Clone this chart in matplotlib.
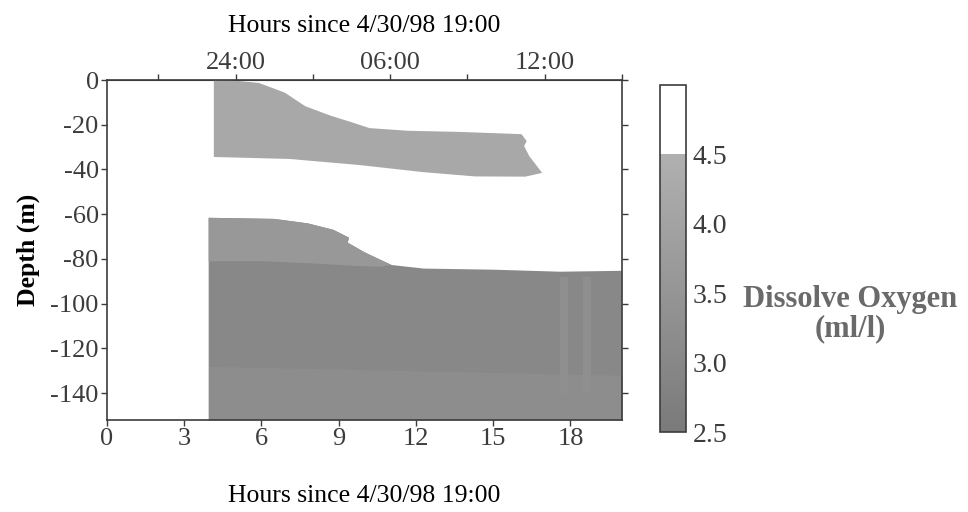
import matplotlib
matplotlib.use('Agg')
import matplotlib.pyplot as plt
import numpy as np
from matplotlib.colors import LinearSegmentedColormap, Normalize
from matplotlib.cm import ScalarMappable

# ---------------- data ----------------
# 4.0-4.5 ml/l band near the surface: outline (hours, depth m)
band_top_t = [4.15, 5.0, 5.9, 6.9, 7.7, 8.7, 9.4, 10.2, 11.7, 13.7, 16.1, 16.3, 16.2, 16.4, 16.9]
band_top_d = [0.0, -0.3, -1.3, -5.6, -11.7, -16.0, -18.5, -21.5, -22.7, -23.2, -24.2, -27.3, -29.5, -34.0, -41.5]
band_bot_t = [16.9, 16.25, 14.3, 12.3, 9.8, 7.1, 4.15]
band_bot_d = [-41.5, -43.2, -43.1, -41.2, -38.0, -35.3, -34.4]
band_do = 4.2

# top of the low-oxygen deep water (hours, depth m)
deep_top_t = [3.95, 5.0, 6.5, 7.8, 8.8, 9.4, 9.35, 10.0, 11.05, 12.3, 15.0, 17.6, 20.0]
deep_top_d = [-61.6, -61.8, -62.1, -64.1, -67.0, -70.5, -72.7, -77.0, -82.7, -84.3, -84.8, -85.7, -85.3]
deep_do = 3.0

# lighter (3.5-4.0) cap of the deep water, lower edge
cap_bot_t = [10.6, 9.5, 8.0, 6.0, 3.95]
cap_bot_d = [-83.5, -83.0, -82.0, -81.0, -81.0]
cap_do = 3.6

# slightly lighter bottom layer
bottom_t = [3.95, 8.0, 12.0, 16.0, 20.0]
bottom_top_d = [-128.0, -129.0, -130.0, -131.0, -132.0]
bottom_do = 3.2

# lighter vertical streaks near 18 h
streak_t0 = [17.6, 18.5]
streak_t1 = [17.9, 18.8]
streak_top = -88.0
streak_bot = -140.0
streak_do = 3.3

data_floor = -152.0
x_ticks = [0, 3, 6, 9, 12, 15, 18]
y_ticks = [0, -20, -40, -60, -80, -100, -120, -140]
top_ticks = [2, 5, 8, 11, 14, 17, 20]
top_labels = ['', '24:00', '', '06:00', '', '12:00', '']
cb_ticks = [2.5, 3.0, 3.5, 4.0, 4.5]

# ---------------- styling ----------------
plt.rcParams['font.family'] = ['Liberation Serif', 'DejaVu Serif']
plt.rcParams['axes.unicode_minus'] = False
ink = '#3c3c3c'
plt.rcParams['text.color'] = ink
plt.rcParams['axes.edgecolor'] = ink
plt.rcParams['xtick.color'] = ink
plt.rcParams['ytick.color'] = ink

cmap = LinearSegmentedColormap.from_list(
    'do', [(0.0, '#7a7a7a'), (0.8, '#b0b0b0'), (0.8, '#ffffff'), (1.0, '#ffffff')])
norm = Normalize(2.5, 5.0)

fig = plt.figure(figsize=(9.68, 5.12), dpi=100)
ax = fig.add_axes([0.1105, 0.1797, 0.532, 0.664])

# deep water body
ax.fill(deep_top_t + [20.0, 3.95], deep_top_d + [data_floor, data_floor],
        color=cmap(norm(deep_do)), lw=0)
# lighter cap
n_cap = deep_top_t.index(11.05) + 1
ax.fill(deep_top_t[:n_cap] + cap_bot_t, deep_top_d[:n_cap] + cap_bot_d,
        color=cmap(norm(cap_do)), lw=0)
# bottom layer
ax.fill_between(bottom_t, bottom_top_d, data_floor, color=cmap(norm(bottom_do)), lw=0)
# streaks
for a, b in zip(streak_t0, streak_t1):
    ax.fill_between([a, b], [streak_top, streak_top], [streak_bot, streak_bot],
                    color=cmap(norm(streak_do)), lw=0)
# upper band
ax.fill(band_top_t + band_bot_t, band_top_d + band_bot_d,
        color=cmap(norm(band_do)), lw=0)

ax.set_xlim(0, 20)
ax.set_ylim(data_floor, 0)
ax.set_xticks(x_ticks)
ax.set_yticks(y_ticks)
ax.tick_params(axis='both', direction='out', length=4, width=1, labelsize=19, pad=2)
ax.tick_params(right=True)
for s in ax.spines.values():
    s.set_linewidth(1.2)
ax.set_xlabel('Hours since 4/30/98 19:00', fontsize=18.5, labelpad=25)
ax.set_ylabel('Depth (m)', fontsize=18.5, fontweight='bold', labelpad=7)

top = ax.secondary_xaxis('top')
top.set_xticks(top_ticks)
top.set_xticklabels(top_labels)
top.tick_params(direction='out', length=4, width=1, labelsize=19, pad=0)
top.set_xlabel('Hours since 4/30/98 19:00', fontsize=18.5, labelpad=15)

cax = fig.add_axes([0.6818, 0.156, 0.0269, 0.678])
cb = fig.colorbar(ScalarMappable(norm=norm, cmap=cmap), cax=cax, ticks=cb_ticks)
cb.ax.set_yticklabels([f'{v:.1f}' for v in cb_ticks])
cb.ax.tick_params(length=0, labelsize=20, pad=5)
cb.outline.set_linewidth(1.2)
cb.outline.set_edgecolor(ink)

fig.text(0.878, 0.386, 'Dissolve Oxygen\n(ml/l)', ha='center', va='center',
         fontsize=22, fontweight='bold', color='#6a6a6a', linespacing=1.0)

fig.savefig('out.png', dpi=100, facecolor='white')
